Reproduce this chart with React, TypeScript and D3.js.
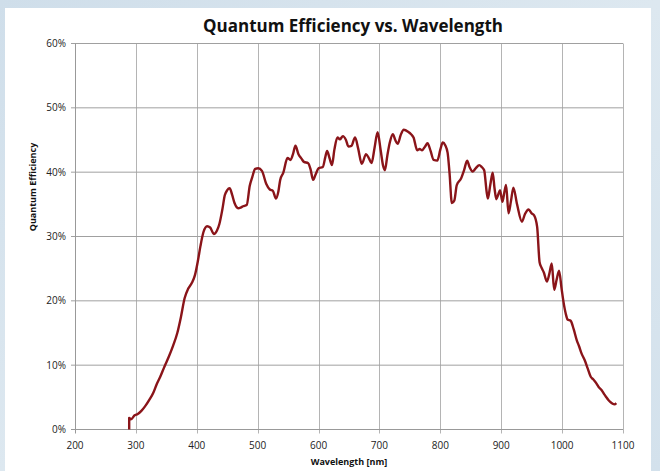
import { useEffect, useRef } from 'react';
import * as d3 from 'd3';

// Wavelength samples (nm)
const wavelengths = [
  289, 289, 292, 298, 303, 309, 315, 322, 329, 334, 340, 347, 354, 361, 368, 374, 380, 386, 392, 397,
  402, 406, 411, 417, 422, 428, 433, 437, 442, 446, 450, 454, 458, 462, 468, 472, 476, 482, 487, 491,
  496, 501, 507, 514, 520, 525, 530, 534, 537, 542, 549, 554, 558, 562, 567, 572, 576, 583, 587, 591,
  595, 600, 607, 611, 614, 618, 622, 626, 631, 635, 640, 645, 649, 654, 660, 665, 671, 678, 683, 687,
  692, 697, 702, 706, 709, 713, 717, 722, 726, 730, 735, 740, 747, 752, 756, 762, 766, 770, 775, 779,
  784, 789, 795, 800, 804, 808, 812, 815, 819, 823, 827, 834, 839, 844, 848, 853, 858, 864, 868, 872,
  876, 878, 882, 886, 889, 892, 895, 898, 902, 905, 908, 912, 916, 920, 926, 934, 939, 945, 950, 954,
  959, 963, 966, 970, 975, 979, 983, 987, 991, 995, 999, 1002, 1006, 1009, 1014, 1019, 1024, 1028, 1032, 1037,
  1042, 1047, 1051, 1056, 1060, 1065, 1069, 1072, 1076, 1079, 1083, 1086, 1089,
];

// Quantum efficiency (%) at each wavelength above
const efficiency = [
  0, 1.8, 1.6, 2.2, 2.4, 2.9, 3.6, 4.6, 5.8, 7.0, 8.2, 9.8, 11.3, 13.0, 15.0, 17.5, 20.4, 21.9, 22.8, 24.0,
  26.3, 28.5, 30.7, 31.6, 31.4, 30.4, 30.9, 31.9, 34.2, 36.4, 37.2, 37.5, 36.5, 35.2, 34.4, 34.5, 34.7, 34.9, 37.9, 39.2,
  40.5, 40.6, 40.2, 38.2, 37.3, 37.1, 35.9, 37.0, 38.8, 39.9, 42.2, 41.9, 42.8, 44.1, 42.8, 42.1, 41.6, 41.4, 40.4, 38.8,
  39.6, 40.6, 40.8, 42.3, 43.3, 42.2, 41.1, 43.5, 45.4, 45.1, 45.6, 45.0, 44.0, 44.1, 45.4, 43.7, 41.3, 42.8, 42.1, 41.4,
  43.8, 46.2, 43.4, 41.0, 40.3, 42.6, 44.6, 45.9, 45.0, 44.4, 45.8, 46.6, 46.3, 45.9, 45.4, 43.4, 43.6, 43.4, 44.0, 44.5,
  43.3, 41.9, 41.8, 43.5, 44.6, 44.2, 43.0, 40.0, 35.2, 35.6, 38.0, 39.0, 40.3, 41.8, 40.8, 40.1, 40.6, 41.1, 40.8, 40.3,
  37.0, 35.9, 38.0, 39.9, 37.5, 35.8, 36.5, 37.2, 35.4, 36.8, 38.0, 33.6, 35.5, 37.6, 35.0, 32.3, 33.5, 34.2, 33.6, 33.3,
  31.5, 26.0, 25.2, 24.4, 23.0, 24.2, 25.8, 21.7, 23.3, 24.7, 22.0, 20.0, 18.0, 17.1, 16.9, 15.6, 13.9, 12.9, 11.8, 10.8,
  9.5, 8.2, 7.8, 7.2, 6.6, 6.1, 5.5, 5.1, 4.6, 4.3, 4.0, 3.9, 4.1,
];

const xTicks = [200, 300, 400, 500, 600, 700, 800, 900, 1000, 1100];
const yTicks = [0, 10, 20, 30, 40, 50, 60];

const W = 660;
const H = 471;
const FONT = '"Open Sans", "DejaVu Sans", sans-serif';

export default function App() {
  const svgRef = useRef<SVGSVGElement>(null);

  useEffect(() => {
    const svg = d3.select(svgRef.current);
    svg.selectAll('*').remove();

    const margin = { top: 43.5, right: 37, bottom: 41.5, left: 75 };
    const width = W - margin.left - margin.right;
    const height = H - margin.top - margin.bottom;

    // background
    const defs = svg.append('defs');
    const grad = defs
      .append('linearGradient')
      .attr('id', 'bg')
      .attr('x1', '0')
      .attr('y1', '0')
      .attr('x2', '1')
      .attr('y2', '1');
    grad.append('stop').attr('offset', '0%').attr('stop-color', '#cfdeea');
    grad.append('stop').attr('offset', '50%').attr('stop-color', '#dde8f0');
    grad.append('stop').attr('offset', '100%').attr('stop-color', '#d3e1ec');
    svg.append('rect').attr('width', W).attr('height', H).attr('fill', 'url(#bg)');
    svg.append('rect').attr('x', 5).attr('y', 8).attr('width', 646).attr('height', H - 8).attr('fill', '#fff');

    const x = d3.scaleLinear().domain([200, 1100]).range([0, width]);
    const y = d3.scaleLinear().domain([0, 60]).range([height, 0]);

    const g = svg.append('g').attr('transform', `translate(${margin.left},${margin.top})`);

    // grid
    g.append('g')
      .selectAll('line')
      .data(xTicks.slice(1))
      .enter()
      .append('line')
      .attr('x1', (d) => Math.round(x(d)) + 0.5)
      .attr('x2', (d) => Math.round(x(d)) + 0.5)
      .attr('y1', 0)
      .attr('y2', height + 4)
      .attr('stroke', '#b4b4b4');

    g.append('g')
      .selectAll('line')
      .data(yTicks.slice(1))
      .enter()
      .append('line')
      .attr('x1', -4)
      .attr('x2', width)
      .attr('y1', (d) => y(d))
      .attr('y2', (d) => y(d))
      .attr('stroke', '#a0a0a0');

    // axes lines
    g.append('line')
      .attr('x1', 0.5)
      .attr('x2', 0.5)
      .attr('y1', 0)
      .attr('y2', height + 4)
      .attr('stroke', '#999');
    g.append('line')
      .attr('x1', -4)
      .attr('x2', width)
      .attr('y1', height)
      .attr('y2', height)
      .attr('stroke', '#999');

    // y tick labels
    g.append('g')
      .selectAll('text')
      .data(yTicks)
      .enter()
      .append('text')
      .attr('x', -9)
      .attr('y', (d) => y(d))
      .attr('dy', '0.35em')
      .attr('text-anchor', 'end')
      .style('font-family', FONT)
      .style('font-size', '10px')
      .attr('fill', '#222')
      .text((d) => `${d}%`);

    // x tick labels
    g.append('g')
      .selectAll('text')
      .data(xTicks)
      .enter()
      .append('text')
      .attr('x', (d) => x(d))
      .attr('y', height + 19)
      .attr('text-anchor', 'middle')
      .style('font-family', FONT)
      .style('font-size', '10px')
      .attr('fill', '#222')
      .text((d) => d);

    // data line
    const pts = wavelengths.map((w, i) => [w, efficiency[i]] as [number, number]);
    const line = d3
      .line<[number, number]>()
      .x((d) => x(d[0]))
      .y((d) => y(d[1]))
      .curve(d3.curveMonotoneX);
    g.append('path')
      .datum(pts)
      .attr('d', line)
      .attr('fill', 'none')
      .attr('stroke', '#8a1419')
      .attr('stroke-width', 2.4)
      .attr('stroke-linejoin', 'round');

    // title
    svg
      .append('text')
      .attr('x', 353)
      .attr('y', 32)
      .attr('text-anchor', 'middle')
      .style('font-family', FONT)
      .style('font-size', '17px')
      .style('font-weight', 'bold')
      .attr('fill', '#111')
      .text('Quantum Efficiency vs. Wavelength');

    // axis titles
    svg
      .append('text')
      .attr('x', 349)
      .attr('y', 465)
      .attr('text-anchor', 'middle')
      .style('font-family', FONT)
      .style('font-size', '9px')
      .style('font-weight', 'bold')
      .attr('fill', '#111')
      .text('Wavelength [nm]');

    svg
      .append('text')
      .attr('transform', 'translate(36,187) rotate(-90)')
      .attr('text-anchor', 'middle')
      .style('font-family', FONT)
      .style('font-size', '9px')
      .style('font-weight', 'bold')
      .attr('fill', '#111')
      .text('Quantum Efficiency');
  }, []);

  return (
    <svg
      ref={svgRef}
      width={W}
      height={H}
      style={{ position: 'absolute', left: 0, top: 0, display: 'block' }}
    />
  );
}
